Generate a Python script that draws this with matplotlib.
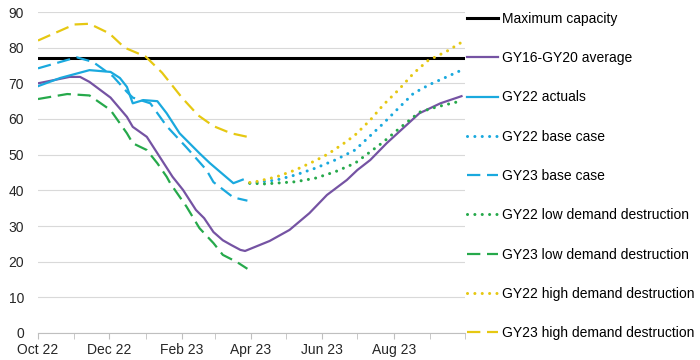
import pandas as pd
import matplotlib
matplotlib.use('Agg')
import matplotlib.pyplot as plt
import matplotlib.dates as mdates

plt.rcParams['font.family'] = ['Liberation Sans', 'DejaVu Sans']
plt.rcParams['font.size'] = 10

start = pd.Timestamp('2022-10-01')

# day offsets from 1 Oct 2022
avg_days = [0, 27, 36, 44, 62, 76, 81, 93, 104, 115, 124, 135, 142, 150, 158, 165, 173, 177,
            198, 215, 232, 247, 264, 273, 284, 298, 315, 326, 344, 362]
avg_vals = [70, 71.8, 71.8, 70.4, 66, 60.6, 57.8, 55, 49.4, 43.8, 40.1, 34.5, 32.2, 28.3, 26, 24.7, 23.3, 23,
            25.8, 28.9, 33.6, 38.7, 42.9, 45.7, 48.5, 53.2, 58.3, 61.6, 64.4, 66.4]

act_days = [0, 19, 44, 62, 70, 76, 81, 90, 102, 110, 121, 138, 147, 162, 167, 175]
act_vals = [69.2, 71.5, 73.7, 73.2, 71.5, 69, 64.4, 65.3, 65, 61.6, 56, 50.4, 47.6, 43.4, 42, 43]

b23_days = [0, 33, 47, 64, 76, 81, 96, 110, 127, 144, 150, 167, 179]
b23_vals = [74.2, 77.3, 76, 72, 67.6, 66, 64.4, 58, 52, 45.7, 42.3, 38, 37.1]

l23_days = [0, 25, 44, 62, 76, 81, 93, 102, 110, 113, 127, 138, 150, 158, 170, 179]
l23_vals = [65.6, 67, 66.6, 62.5, 56, 53.2, 51.3, 47.6, 43.8, 42, 35.4, 29.4, 25.2, 21.9, 19.9, 18]

h23_days = [0, 31, 44, 61, 74, 92, 106, 123, 137, 150, 165, 179]
h23_vals = [82, 86.5, 86.7, 84, 80, 77.5, 73, 66, 61, 58, 56, 55]

h22_days = [181, 186, 204, 220, 237, 248, 262, 271, 284, 295, 308, 321, 333, 350, 362]
h22_vals = [42.2, 42.4, 43.8, 45.7, 48.3, 50.2, 53.3, 55.5, 59.7, 63.9, 68.1, 72.8, 76.3, 79.1, 81.5]

b22_days = [181, 204, 220, 237, 254, 271, 295, 308, 321, 335, 350, 362]
b22_vals = [42, 42.9, 44.3, 46.2, 48.5, 51.3, 58.7, 63, 67.2, 69.7, 71.9, 73.7]

l22_days = [181, 194, 220, 237, 254, 271, 295, 309, 326, 341, 361]
l22_vals = [42, 41.8, 42.4, 43.4, 45.2, 47.6, 53.5, 57.4, 61.9, 63.4, 65]

max_capacity = 77
tick_dates = ['2022-10-01', '2022-12-01', '2023-02-01', '2023-04-01', '2023-06-01', '2023-08-01']

purple = '#7553A3'
cyan = '#1AA9DE'
green = '#26A94B'
yellow = '#E6C812'


def dates(days):
    return start + pd.to_timedelta(days, unit='D')


fig = plt.figure(figsize=(7, 3.6), dpi=100)
ax = fig.add_axes([38 / 700, 27 / 360, 427 / 700, 321 / 360])

lw = 1.6
dash = (6, 3)
dot = (0.01, 2.4)

ax.axhline(max_capacity, color='black', lw=2.2, label='Maximum capacity')
ax.plot(dates(avg_days), avg_vals, color=purple, lw=lw, label='GY16-GY20 average')
ax.plot(dates(act_days), act_vals, color=cyan, lw=lw, label='GY22 actuals')
ax.plot(dates(b22_days), b22_vals, color=cyan, lw=2.2, dashes=dot, dash_capstyle='round',
        label='GY22 base case')
ax.plot(dates(b23_days), b23_vals, color=cyan, lw=lw, dashes=dash, label='GY23 base case')
ax.plot(dates(l22_days), l22_vals, color=green, lw=2.2, dashes=dot, dash_capstyle='round',
        label='GY22 low demand destruction')
ax.plot(dates(l23_days), l23_vals, color=green, lw=lw, dashes=dash, label='GY23 low demand destruction')
ax.plot(dates(h22_days), h22_vals, color=yellow, lw=2.2, dashes=dot, dash_capstyle='round',
        label='GY22 high demand destruction')
ax.plot(dates(h23_days), h23_vals, color=yellow, lw=lw, dashes=dash, label='GY23 high demand destruction')

ax.set_ylim(0, 90)
ax.set_yticks(range(0, 91, 10))
ax.set_xlim(pd.Timestamp('2022-10-01'), pd.Timestamp('2023-10-01'))
ax.set_xticks(pd.to_datetime(tick_dates))
ax.xaxis.set_major_formatter(mdates.DateFormatter('%b %y'))
ax.xaxis.set_minor_locator(mdates.MonthLocator())

ax.grid(axis='y', color='#D9D9D9', lw=0.8)
ax.set_axisbelow(True)
for s in ['top', 'right', 'left']:
    ax.spines[s].set_visible(False)
ax.spines['bottom'].set_color('#BFBFBF')
ax.tick_params(axis='y', length=0, pad=10, labelcolor='#262626')
ax.tick_params(axis='x', which='both', length=4, color='#BFBFBF', labelcolor='#262626', pad=3)

fig.legend(loc='upper left', bbox_to_anchor=(467 / 700, 0.967), frameon=False,
           borderpad=0, borderaxespad=0, handlelength=2.2, handletextpad=0.3,
           labelspacing=1.82)

fig.savefig('out.png', dpi=100)
